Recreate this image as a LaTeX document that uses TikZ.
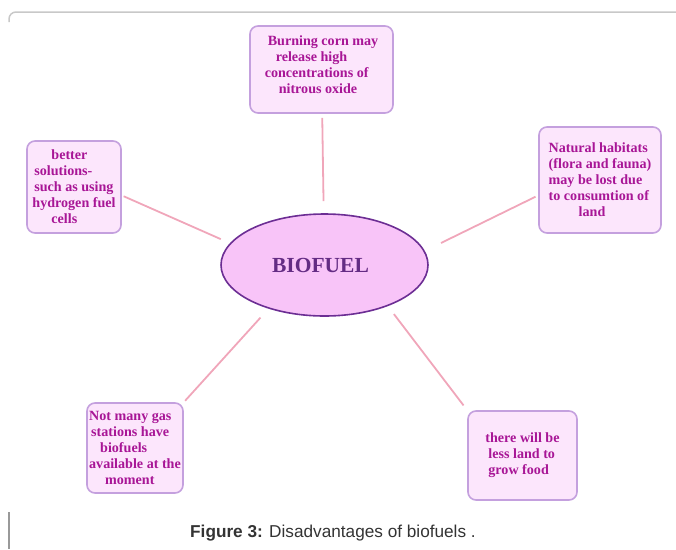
\documentclass[tikz,border=0pt]{standalone}
\usepackage{fontspec}
\setmainfont{Liberation Serif}
\newfontfamily\capfont{Liberation Sans}
\usetikzlibrary{shapes,positioning}

\definecolor{boxfill}{RGB}{252,230,252}
\definecolor{boxline}{RGB}{196,160,222}
\definecolor{ideatext}{RGB}{168,22,150}
\definecolor{hubfill}{RGB}{248,196,248}
\definecolor{hubline}{RGB}{108,46,148}
\definecolor{hubtext}{RGB}{100,44,132}
\definecolor{linkpink}{RGB}{240,166,186}
\definecolor{framegray}{RGB}{200,200,200}

\begin{document}
\begin{tikzpicture}[x=1pt,y=-1pt,
    idea/.style = {rectangle,draw=boxline,fill=boxfill,rounded corners=8pt,line width=1.6pt,
                   inner sep=0pt,align=left,text=ideatext,font=\fontsize{14.1}{16}\selectfont\bfseries},
    hub/.style = {ellipse,draw=hubline,fill=hubfill,line width=1.6pt,inner sep=0pt,
                  minimum width=207pt,minimum height=102pt,text=hubtext,font=\fontsize{21.5}{24}\selectfont\bfseries},
    link/.style = {draw=linkpink,line width=1.8pt},
    frame/.style = {draw=framegray,line width=1.5pt}
    ]
    \useasboundingbox (0,0) rectangle (676,549);

    % frame of the figure
    \draw[frame] (676,12) -- (16,12) arc[start angle=-90,end angle=-180,radius=7] -- (9,22);
    \draw[frame,draw=gray!80] (9,512) -- (9,549);

    \node[hub] (biofuel) at (324.5,265) {\hspace*{-8pt}BIOFUEL};

    \node[idea,minimum width=143pt,minimum height=87pt] (burning) at (321.5,69.5)
        {\hspace*{3pt}Burning corn may\\\hspace*{11pt}release high\\concentrations of\\\hspace*{14pt}nitrous oxide\\[-6pt]};
    \node[idea,minimum width=94pt,minimum height=92pt] (better) at (74,187)
        {\hspace*{19pt}better\\\hspace*{2pt}solutions-\\\hspace*{2pt}such as using\\hydrogen fuel\\\hspace*{19pt}cells};
    \node[idea,minimum width=122pt,minimum height=106pt] (habitats) at (600,180)
        {Natural habitats\\(flora and fauna)\\may be lost due\\to consumtion of\\\hspace*{30pt}land};
    \node[idea,minimum width=96pt,minimum height=90pt] (stations) at (135,448)
        {Not many gas\\\hspace*{2pt}stations have\\\hspace*{11pt}biofuels\\available at the\\\hspace*{16pt}moment};
    \node[idea,minimum width=109pt,minimum height=89pt] (food) at (522.5,455.5)
        {there will be\\\hspace*{3pt}less land to\\\hspace*{3pt}grow food};

    \draw[link,shorten <=4pt,shorten >=12pt] (burning) -- (biofuel);
    \draw[link,shorten <=2pt,shorten >=10pt] (better.-10) -- (biofuel.167.5);
    \draw[link,shorten <=3pt,shorten >=18pt] (habitats.194) -- (biofuel.8.8);
    \draw[link,shorten <=2pt,shorten >=12pt] (stations.north east) -- (biofuel.218.8);
    \draw[link,shorten <=6pt,shorten >=10pt] (food.north west) -- (biofuel.-33.2);

    \node[text=black!80,font=\capfont\fontsize{17.2}{20}\selectfont] (caption) at (333,533)
        {\textbf{Figure 3:} Disadvantages of biofuels .};
\end{tikzpicture}
\end{document}
